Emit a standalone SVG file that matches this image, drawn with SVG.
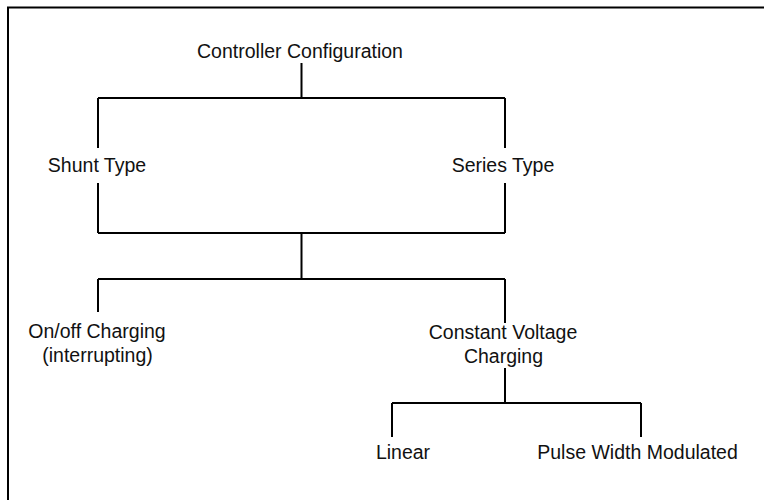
<svg xmlns="http://www.w3.org/2000/svg" width="764" height="500" viewBox="0 0 764 500">
<style>
text{font-family:"Liberation Sans",Arial,sans-serif;font-size:19.5px;fill:#111;text-anchor:middle}
.ln{stroke:#000;stroke-width:2;fill:none}
</style>
<rect x="0" y="0" width="764" height="500" fill="#fff"/>
<rect x="8" y="7.5" width="800" height="600" class="ln"/>
<g id="connectors">
<path class="ln" d="M301.5 63V98M98 98H505M98 98V148M98 183V233M505 98V148M505 183V233M98 233H505"/>
<path class="ln" d="M301.5 233V279M98 279H505M98 279V312M505 279V323"/>
<path class="ln" d="M505 368V403M392 403H641M392 403V437M641 403V437"/>
</g>
<g id="root"><text x="300" y="58">Controller Configuration</text></g>
<g id="shunt"><text x="97" y="172">Shunt Type</text></g>
<g id="series"><text x="503" y="172">Series Type</text></g>
<g id="onoff"><text x="97" y="338">On/off Charging</text><text x="97.5" y="362">(interrupting)</text></g>
<g id="constant"><text x="503" y="339">Constant Voltage</text><text x="503.5" y="363">Charging</text></g>
<g id="linear"><text x="403" y="459">Linear</text></g>
<g id="pwm"><text x="637.5" y="459">Pulse Width Modulated</text></g>
</svg>
